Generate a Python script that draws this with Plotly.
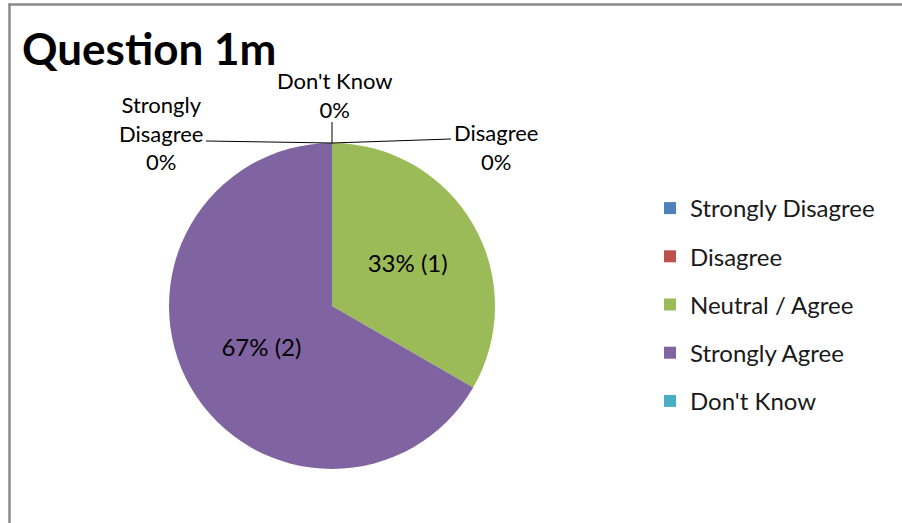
import plotly.graph_objects as go

categories = ["Strongly Disagree", "Disagree", "Neutral / Agree", "Strongly Agree", "Don't Know"]
counts = [0, 0, 1, 2, 0]
colors = ["#4F81BD", "#C0504D", "#9BBB59", "#8064A2", "#4BACC6"]
title_text = "Question 1m"

W, H = 902, 523
FONT = "Lato, 'Open Sans', sans-serif"

# pie geometry in pixels -> paper
cx_px, cy_px, r_px = 332, 306, 163
dom_x = [(cx_px - r_px) / W, (cx_px + r_px) / W]
dom_y = [1 - (cy_px + r_px) / H, 1 - (cy_px - r_px) / H]

total = sum(counts)
templates = ["%{percent:.0%} (%{value})" if v > 0 else "" for v in counts]

fig = go.Figure()
fig.add_trace(go.Pie(
    labels=categories, values=counts, sort=False, direction="clockwise", rotation=0,
    marker=dict(colors=colors, line=dict(width=0)),
    texttemplate=templates, textposition="inside", insidetextorientation="horizontal",
    textfont=dict(family=FONT, size=24, color="#000000"),
    domain=dict(x=dom_x, y=dom_y), showlegend=False, hoverinfo="label+percent+value",
))

# legend entries (one per category, same colours)
for name, col in zip(categories, colors):
    fig.add_trace(go.Scatter(
        x=[None], y=[None], mode="markers", name=name, legendgroup=name,
        marker=dict(symbol="square", size=12, color=col), showlegend=True,
    ))

# zero-value labels with leader lines, anchored to the top of the pie
top_x = cx_px / W
top_y = 1 - (cy_px - r_px) / H
shapes = []
annotations = []
zero_labels = {
    "Strongly Disagree": dict(text="Strongly<br>Disagree<br>{p}", tx=161, ty=133, lx=206, ly=141),
    "Disagree": dict(text="Disagree<br>{p}", tx=496, ty=147, lx=451, ly=139),
    "Don't Know": dict(text="Don't Know<br>{p}", tx=335, ty=95, lx=332, ly=122),
}
for name, v in zip(categories, counts):
    if v == 0 and name in zero_labels:
        z = zero_labels[name]
        pct = f"{(v / total) * 100:.0f}%"
        annotations.append(dict(
            x=z["tx"] / W, y=1 - z["ty"] / H, xref="paper", yref="paper",
            text=z["text"].format(p=pct), showarrow=False, xanchor="center", yanchor="middle",
            font=dict(family=FONT, size=22, color="#000000"), align="center",
        ))
        shapes.append(dict(
            type="line", xref="paper", yref="paper",
            x0=top_x, y0=top_y, x1=z["lx"] / W, y1=1 - z["ly"] / H,
            line=dict(color="#000000", width=1),
        ))

# chart border (left and top edges visible)
bx, by = 9.5, 4.5
shapes.append(dict(type="line", xref="paper", yref="paper",
                   x0=bx / W, x1=bx / W, y0=0, y1=1 - (by - 1) / H,
                   line=dict(color="#8A8A8A", width=2.5)))
shapes.append(dict(type="line", xref="paper", yref="paper",
                   x0=(bx - 1) / W, x1=1, y0=1 - by / H, y1=1 - by / H,
                   line=dict(color="#8A8A8A", width=2.5)))

fig.update_layout(
    width=W, height=H, margin=dict(l=0, r=0, t=0, b=0),
    paper_bgcolor="white", plot_bgcolor="white",
    title=dict(text=f"<b>{title_text}</b>", x=22 / W, xanchor="left", y=1 - 50 / H, yanchor="middle",
               font=dict(family=FONT, size=44, color="#000000")),
    xaxis=dict(visible=False), yaxis=dict(visible=False),
    legend=dict(x=650 / W, y=1 - 186 / H, xanchor="left", yanchor="top",
                font=dict(family=FONT, size=24, color="#1a1a1a"), tracegroupgap=14,
                bgcolor="rgba(0,0,0,0)"),
    shapes=shapes, annotations=annotations,
)

fig.write_html("out.html", config={"displayModeBar": False},
               post_script="document.body.style.margin='0';document.body.style.overflow='hidden';")
